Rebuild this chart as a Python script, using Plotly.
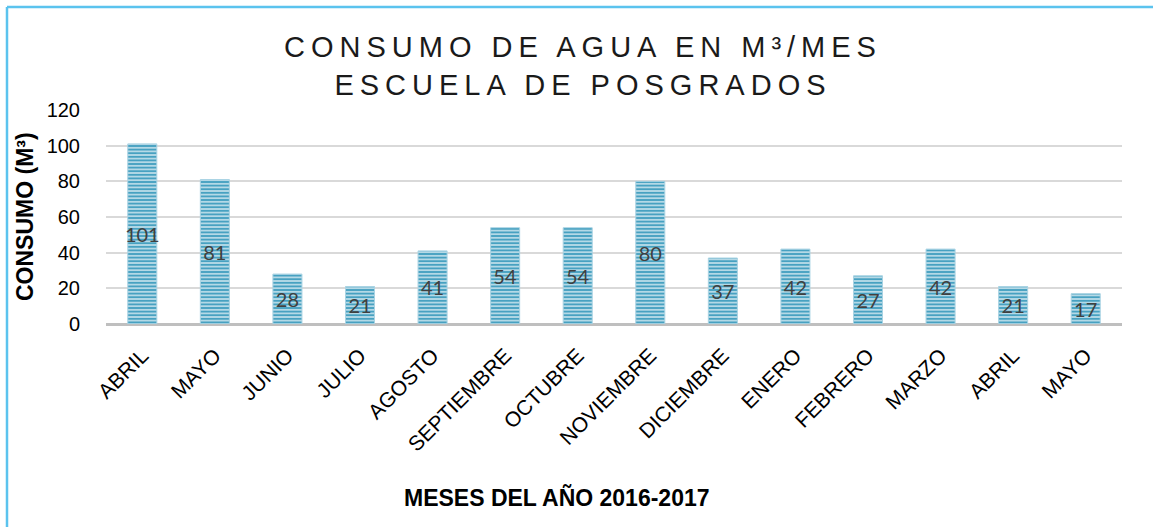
import plotly.graph_objects as go

months = ["ABRIL", "MAYO", "JUNIO", "JULIO", "AGOSTO", "SEPTIEMBRE", "OCTUBRE",
          "NOVIEMBRE", "DICIEMBRE", "ENERO", "FEBRERO", "MARZO", "ABRIL", "MAYO"]
consumo = [101, 81, 28, 21, 41, 54, 54, 80, 37, 42, 27, 42, 21, 17]
y_ticks = [0, 20, 40, 60, 80, 100, 120]

positions = list(range(len(months)))

W, H = 1153, 527
ml, mr, mt, mb = 106, 31, 110, 203
pw, ph = W - ml - mr, H - mt - mb

fig = go.Figure()
fig.add_trace(go.Bar(
    x=positions,
    y=consumo,
    width=0.4,
    text=[str(v) for v in consumo],
    textposition="inside",
    insidetextanchor="middle",
    constraintext="none",
    textangle=0,
    textfont=dict(family="Lato, Open Sans, sans-serif", size=20, color="#404040"),
    marker=dict(
        color="#47a1c1",
        line=dict(width=1, color="#a9d3e3"),
        pattern=dict(shape="-", size=3.6, solidity=0.3,
                     fgcolor="#ffffff", bgcolor="#47a1c1", fillmode="replace"),
    ),
    hoverinfo="skip",
))

fig.update_layout(
    width=W, height=H,
    margin=dict(l=ml, r=mr, t=mt, b=mb, pad=0),
    paper_bgcolor="white",
    plot_bgcolor="white",
    showlegend=False,
    bargap=0.6,
    title=dict(
        text="CONSUMO DE AGUA EN M³/MES<br>ESCUELA DE POSGRADOS",
        font=dict(family="Liberation Sans, Arial, sans-serif", size=29, color="#1a1a1a"),
        x=583 / W, xanchor="center", xref="container",
        y=1 - 57 / H, yanchor="top", yref="container",
    ),
    xaxis=dict(
        range=[-0.5, len(months) - 0.5],
        tickmode="array",
        tickvals=positions,
        ticktext=months,
        tickangle=-45,
        tickfont=dict(family="Liberation Sans, Arial, sans-serif", size=21, color="#000000"),
        showgrid=False,
        showline=False,
        zeroline=False,
        ticks="outside", ticklen=10, tickcolor="rgba(0,0,0,0)",
        fixedrange=True,
    ),
    yaxis=dict(
        range=[0, 120],
        tickmode="array",
        tickvals=y_ticks,
        tickfont=dict(family="Liberation Sans, Arial, sans-serif", size=20, color="#000000"),
        showgrid=True,
        gridcolor="#d9d9d9",
        gridwidth=1.5,
        zeroline=True,
        zerolinecolor="#bfbfbf",
        zerolinewidth=3,
        showline=False,
        ticks="outside", ticklen=21, tickcolor="rgba(0,0,0,0)",
        fixedrange=True,
    ),
    annotations=[
        dict(text="<b>CONSUMO (M³)</b>", textangle=-90,
             xref="paper", yref="paper",
             x=(25 - ml) / pw, y=0.5, xanchor="center", yanchor="middle",
             showarrow=False,
             font=dict(family="Liberation Sans, Arial, sans-serif", size=23, color="#000000")),
        dict(text="<b>MESES DEL AÑO 2016-2017</b>",
             xref="paper", yref="paper",
             x=(557 - ml) / pw, y=-(497 - (mt + ph)) / ph, xanchor="center", yanchor="middle",
             showarrow=False,
             font=dict(family="Liberation Sans, Arial, sans-serif", size=23, color="#000000")),
    ],
    shapes=[
        dict(type="line", xref="paper", yref="paper",
             x0=(7 - ml) / pw, x1=(7 - ml) / pw,
             y0=(mt + ph - 7) / ph, y1=-(H + 10 - mt - ph) / ph,
             line=dict(color="#5bc3ee", width=2.5)),
        dict(type="line", xref="paper", yref="paper",
             x0=(7 - ml) / pw, x1=(W + 10 - ml) / pw,
             y0=(mt + ph - 7) / ph, y1=(mt + ph - 7) / ph,
             line=dict(color="#5bc3ee", width=2.5)),
    ],
)

post = """
document.body.style.margin = '0';
document.body.style.padding = '0';
var s = document.querySelectorAll('.gtitle');
s.forEach(function(e){ e.style.letterSpacing = '6px'; });
"""

fig.write_html("out.html", post_script=post, config={"displayModeBar": False})
